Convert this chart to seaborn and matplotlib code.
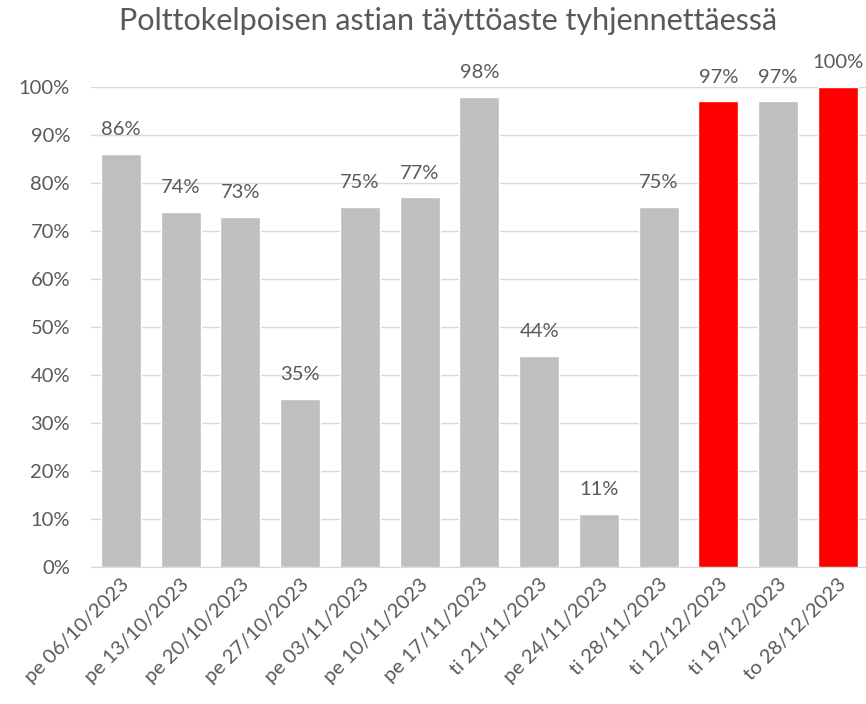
import pandas as pd
import matplotlib
matplotlib.use("Agg")
import matplotlib.pyplot as plt
import seaborn as sns
from matplotlib.ticker import PercentFormatter

# data
dates = ["pe 06/10/2023", "pe 13/10/2023", "pe 20/10/2023", "pe 27/10/2023",
         "pe 03/11/2023", "pe 10/11/2023", "pe 17/11/2023", "ti 21/11/2023",
         "pe 24/11/2023", "ti 28/11/2023", "ti 12/12/2023", "ti 19/12/2023",
         "to 28/12/2023"]
fill_level = [0.86, 0.74, 0.73, 0.35, 0.75, 0.77, 0.98, 0.44, 0.11, 0.75,
              0.97, 0.97, 1.00]
highlighted = [False, False, False, False, False, False, False, False, False,
               False, True, False, True]

df = pd.DataFrame({"date": dates, "fill": fill_level, "hl": highlighted})

sns.set_style("white")
plt.rcParams["font.family"] = ["Lato", "DejaVu Sans"]
text_col = "#595959"

fig = plt.figure(figsize=(8.66, 7.04), dpi=100)
ax = fig.add_axes([0.105, 0.1946, 0.897, 0.6818])

colors = ["#FF0000" if h else "#BFBFBF" for h in df["hl"]]
sns.barplot(data=df, x="date", y="fill", hue="date", palette=colors,
            legend=False, width=0.67, ax=ax, zorder=3, saturation=1)

for i, v in enumerate(df["fill"]):
    ax.annotate(f"{v:.0%}", (i, v), xytext=(0, 13.5), textcoords="offset points",
                ha="center", va="baseline", fontsize=14.5, color=text_col,
                annotation_clip=False)

ax.set_ylim(0, 1.0)
ax.set_xlim(-0.5, 12.5)
ax.set_yticks([i / 10 for i in range(11)])
ax.yaxis.set_major_formatter(PercentFormatter(1.0, decimals=0))
ax.grid(axis="y", color="#D9D9D9", linewidth=1, zorder=0)
ax.set_xlabel("")
ax.set_ylabel("")
for s in ["top", "right", "left"]:
    ax.spines[s].set_visible(False)
ax.spines["bottom"].set_color("#D9D9D9")
ax.tick_params(axis="both", length=0, colors=text_col, labelsize=14.5)
ax.tick_params(axis="y", pad=15)
ax.tick_params(axis="x", pad=6)
plt.setp(ax.get_xticklabels(), rotation=45, ha="right",
         rotation_mode="anchor")

fig.text(0.517, 0.97, "Polttokelpoisen astian täyttöaste tyhjennettäessä",
         ha="center", va="center", fontsize=22, color=text_col)

fig.savefig("out.png", dpi=100)
